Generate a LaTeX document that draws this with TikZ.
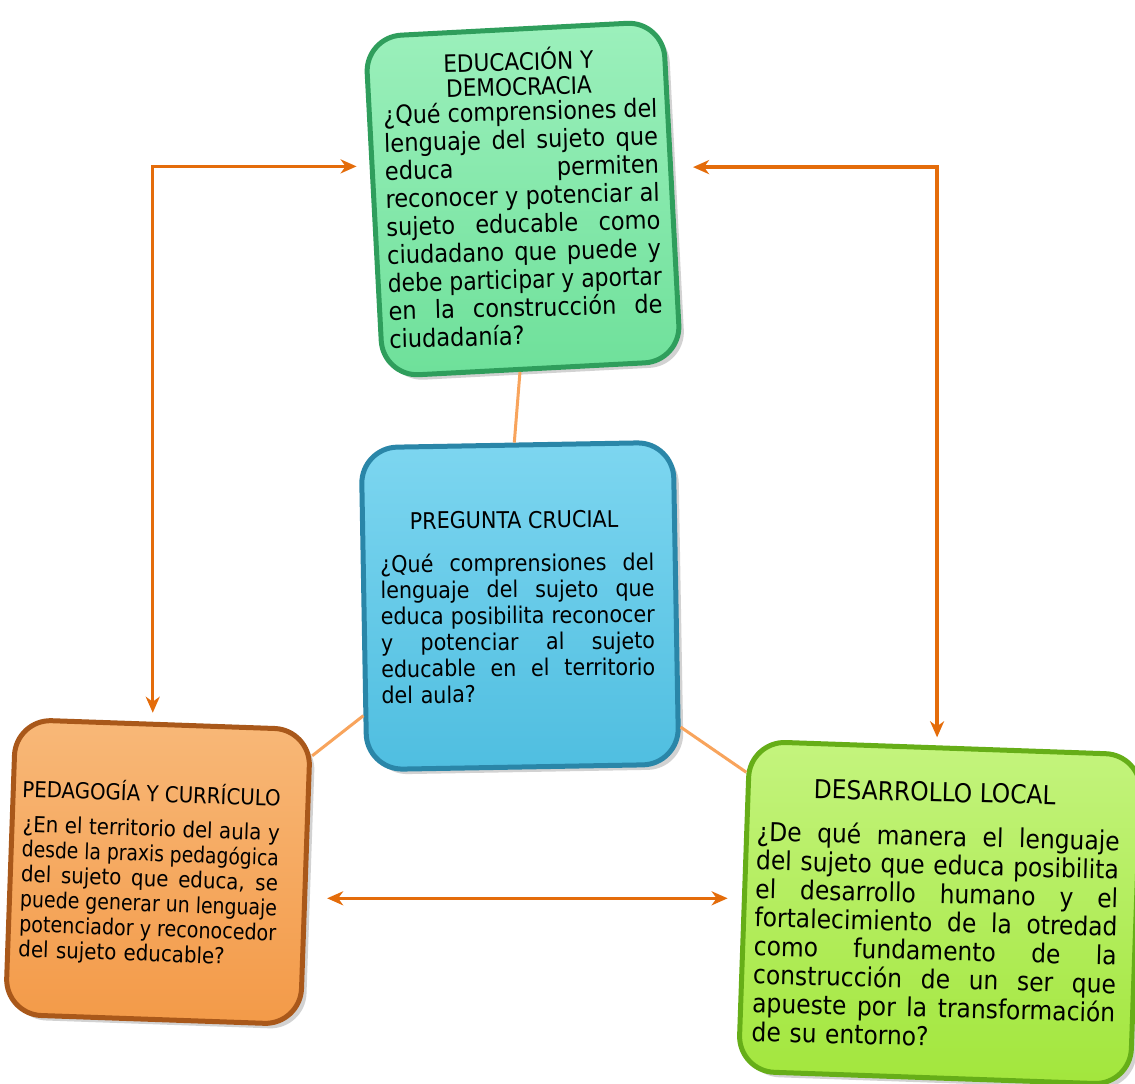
\documentclass[tikz,border=0pt]{standalone}
\usepackage{fontspec}
\usepackage{graphicx}
\setmainfont{DejaVu Sans Condensed}
\usetikzlibrary{arrows.meta,shadows,calc}
\definecolor{arrowc}{HTML}{E46C0A}
\definecolor{linkc}{HTML}{F8A45C}
\definecolor{grnF}{HTML}{6EE09A}\definecolor{grnT}{HTML}{9CF0BC}\definecolor{grnD}{HTML}{2F9E5C}
\definecolor{bluF}{HTML}{4FBEE0}\definecolor{bluT}{HTML}{7DD6F0}\definecolor{bluD}{HTML}{2A86A8}
\definecolor{orgF}{HTML}{F39A48}\definecolor{orgT}{HTML}{F8B878}\definecolor{orgD}{HTML}{A9581A}
\definecolor{limF}{HTML}{A2E63C}\definecolor{limT}{HTML}{C4F47E}\definecolor{limD}{HTML}{66AE18}
\newdimen\jw
\newcommand\jl[1]{\setbox0=\hbox{\spaceskip=0pt\xspaceskip=0pt #1}\ifdim\wd0>\jw\pgfmathsetmacro\jfac{\jw/\wd0}\noindent\scalebox{\jfac}[1]{\box0}\else\noindent\hbox to \jw{\spaceskip=0pt\xspaceskip=0pt #1}\fi\par}
\newcommand\lastl[1]{\noindent #1\par}
\tikzset{
  ebox/.style n args={4}{minimum width=#1pt, minimum height=#2pt, rounded corners=36pt,
    inner sep=0pt, draw=#4, line width=5pt, top color=#3T, bottom color=#3F,
    drop shadow={opacity=0.35, shadow xshift=5pt, shadow yshift=-5pt}},
  bodytxt/.style={anchor=north west, inner sep=0pt, text width=#1pt, align=left},
  titletxt/.style={anchor=north, inner sep=0pt, align=center},
  arr/.style={draw=arrowc, line width=3.4pt, {Stealth[length=16pt,width=14pt,inset=5pt]}-{Stealth[length=16pt,width=14pt,inset=5pt]}},
  link/.style={draw=linkc, line width=3pt}
}
\begin{document}
\begin{tikzpicture}[x=1pt,y=-1pt]
\useasboundingbox (0,0) rectangle (1135,1084);
\fill[white] (0,0) rectangle (1135,1084);

% green
\node[ebox={298}{340}{grn}{grnD}, rotate=3] (green) at (523,199) {};
\node[titletxt, rotate=1.5, font=\fontsize{24}{25}\selectfont] (gt) at (518,48) {EDUCACIÓN Y\\DEMOCRACIA};
\node[bodytxt=274, rotate=1.5, font=\fontsize{25}{28}\selectfont] (gb) at (383,104) {\jw=274pt
\jl{¿Qué comprensiones del}
\jl{lenguaje del sujeto que}
\jl{educa permiten}
\jl{reconocer y potenciar al}
\jl{sujeto educable como}
\jl{ciudadano que puede y}
\jl{debe participar y aportar}
\jl{en la construcción de}
\lastl{ciudadanía?}};

% blue
\node[ebox={312}{322}{blu}{bluD}, rotate=1] (blue) at (520,606) {};
\node[titletxt, rotate=0.5, font=\fontsize{23}{25}\selectfont] (bt) at (514,511) {PREGUNTA CRUCIAL};
\node[bodytxt=274, rotate=0.5, font=\fontsize{23}{26.2}\selectfont] (bb) at (380,554) {\jw=274pt
\jl{¿Qué comprensiones del}
\jl{lenguaje del sujeto que}
\jl{educa posibilita reconocer}
\jl{y potenciar al sujeto}
\jl{educable en el territorio}
\lastl{del aula?}};

% orange
\node[ebox={295}{295}{org}{orgD}, rotate=-2] (orange) at (158,872) {};
\node[titletxt, rotate=-2, font=\fontsize{22}{25}\selectfont] (ot) at (152,781) {PEDAGOGÍA Y CURRÍCULO};
\node[bodytxt=257, rotate=-2, font=\fontsize{22}{25}\selectfont] (ob) at (23,815) {\jw=257pt
\jl{¿En el territorio del aula y}
\jl{desde la praxis pedagógica}
\jl{del sujeto que educa, se}
\jl{puede generar un lenguaje}
\jl{potenciador y reconocedor}
\lastl{del sujeto educable?}};

% lime
\node[ebox={392}{330}{lim}{limD}, rotate=-2] (lime) at (940,913) {};
\node[titletxt, rotate=-1.5, font=\fontsize{26}{28}\selectfont] (lt) at (935,782) {DESARROLLO LOCAL};
\node[bodytxt=363, rotate=-1.5, font=\fontsize{26}{28.6}\selectfont] (lb) at (757,820) {\jw=363pt
\jl{¿De qué manera el lenguaje}
\jl{del sujeto que educa posibilita}
\jl{el desarrollo humano y el}
\jl{fortalecimiento de la otredad}
\jl{como fundamento de la}
\jl{construcción de un ser que}
\jl{apueste por la transformación}
\lastl{de su entorno?}};

% plain links
\draw[link] (green.266) -- (blue.91);
\draw[link] (blue.214) -- (orange.39);
\draw[link] (blue.322) -- (lime.146);

% arrows
\draw[arr, shorten <=13pt, shorten >=9pt] (green.165) -| (orange.94);
\draw[arr, shorten <=20pt, shorten >=8pt] (green.9) -| (lime.93);
\draw[arr, shorten <=20pt, shorten >=14pt] (orange.-8) -- (orange.-8 -| lime.west);
\end{tikzpicture}
\end{document}
